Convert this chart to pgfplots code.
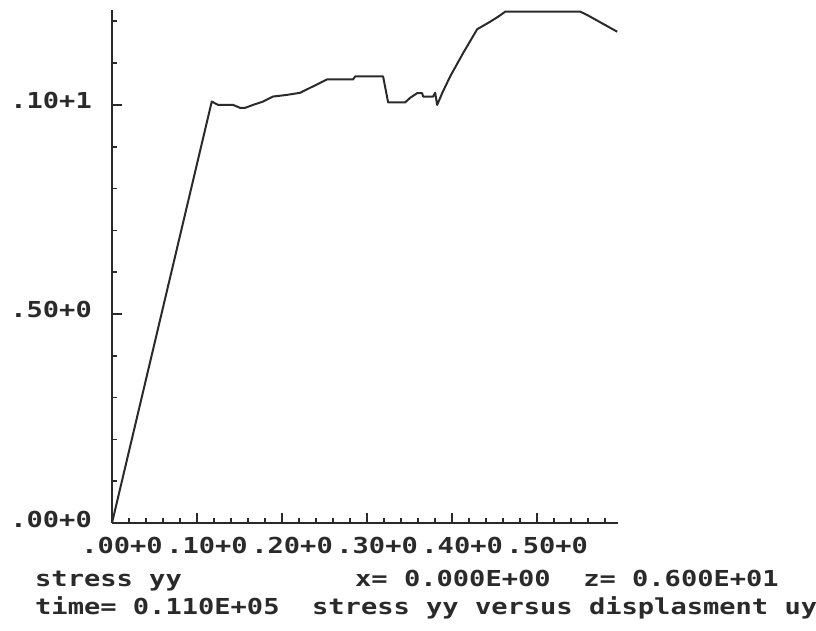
\documentclass[border=0pt]{standalone}
\usepackage{pgfplots}
\pgfplotsset{compat=1.18}
\usepackage{fontspec}
\newfontfamily\plotfont[FakeStretch=1.23]{DejaVu Sans Mono}
\newcommand{\pf}{\plotfont\bfseries\fontsize{22}{26}\selectfont}
\definecolor{ink}{HTML}{2A2A2A}
\pgfplotstableread{
x y
0.0000 0.000
0.1173 1.008
0.1247 1.000
0.1424 1.000
0.1506 0.993
0.1565 0.993
0.1659 1.000
0.1776 1.008
0.1894 1.020
0.2059 1.024
0.2212 1.029
0.2529 1.061
0.2835 1.061
0.2859 1.068
0.3188 1.068
0.3247 1.006
0.3447 1.006
0.3506 1.017
0.3588 1.028
0.3647 1.028
0.3659 1.020
0.3776 1.020
0.3800 1.029
0.3824 1.000
0.3882 1.028
0.3976 1.068
0.4129 1.124
0.4294 1.181
0.4447 1.199
0.4541 1.211
0.4624 1.223
0.5506 1.223
0.5588 1.215
0.5941 1.175
}\stressdata
\begin{document}
\begin{tikzpicture}
\useasboundingbox (0,0) rectangle (816pt,630pt);
\begin{axis}[
  at={(112pt,107pt)}, anchor=south west,
  scale only axis, width=506pt, height=513pt,
  xmin=0, xmax=0.595, ymin=0, ymax=1.227,
  axis lines=left, axis line style={-, ink, line width=2pt},
  tick align=inside,
  tick style={ink, line width=1.6pt},
  major tick length=10pt, minor tick length=5pt,
  xtick={0,0.1,0.2,0.3,0.4,0.5},
  xticklabels={.00+0,.10+0,.20+0,.30+0,.40+0,.50+0},
  minor xtick={0.02,0.04,0.06,0.08,0.12,0.14,0.16,0.18,0.22,0.24,0.26,0.28,0.32,0.34,0.36,0.38,0.42,0.44,0.46,0.48,0.52,0.54,0.56,0.58},
  ytick={0,0.5,1.0},
  yticklabels={.00+0,.50+0,.10+1},
  minor ytick={0.1,0.2,0.3,0.4,0.6,0.7,0.8,0.9,1.1,1.2},
  xticklabel style={font=\pf, text=ink, anchor=base, inner sep=0pt, xshift=10pt, yshift=-30pt},
  yticklabel style={font=\pf, text=ink, anchor=base east, inner sep=0pt, xshift=-20pt, yshift=-4pt},
  clip=false,
]
\addplot[ink, line width=2pt, mark=none, line join=round] table[x=x, y=y] {\stressdata};
\end{axis}
\node[anchor=base west, inner sep=0pt, text=ink, font=\pf] at (35pt,44pt) {stress yy};
\node[anchor=base west, inner sep=0pt, text=ink, font=\pf] at (355pt,44pt) {x=\ 0.000E+00\ \ z=\ 0.600E+01};
\node[anchor=base west, inner sep=0pt, text=ink, font=\pf] at (35pt,16pt) {time=\ 0.110E+05\ \ stress\ yy\ versus\ displasment\ uy};
\end{tikzpicture}
\end{document}
